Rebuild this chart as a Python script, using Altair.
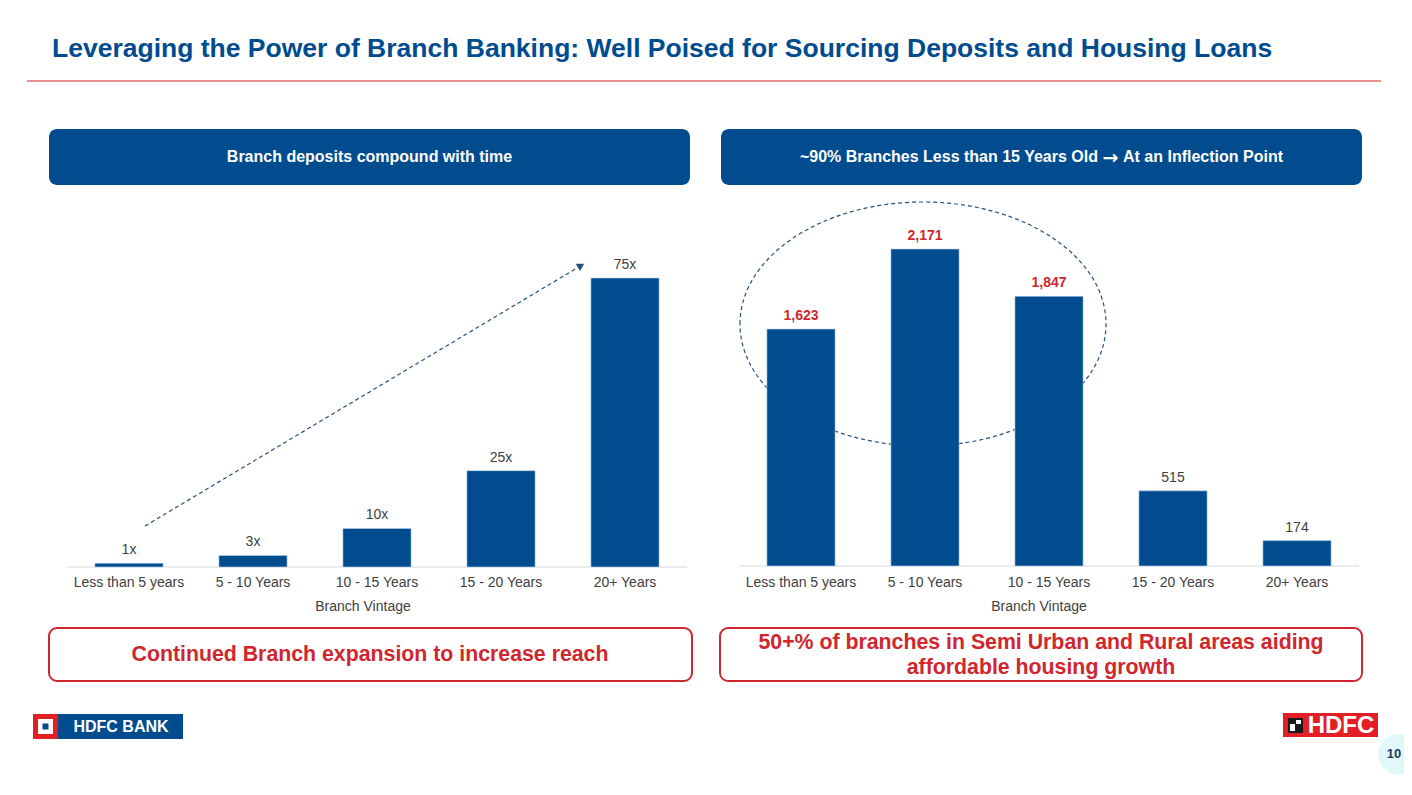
import altair as alt
import pandas as pd

# ---------------- data ----------------
vintage = ["Less than 5 years", "5 - 10 Years", "10 - 15 Years", "15 - 20 Years", "20+ Years"]
deposit_multiple = [1, 3, 10, 25, 75]
deposit_labels = ["1x", "3x", "10x", "25x", "75x"]
branch_count = [1623, 2171, 1847, 515, 174]
branch_labels = ["1,623", "2,171", "1,847", "515", "174"]
highlight = [True, True, True, False, False]

left_df = pd.DataFrame({"vintage": vintage, "value": deposit_multiple, "label": deposit_labels})
right_df = pd.DataFrame({"vintage": vintage, "value": branch_count, "label": branch_labels,
                         "hl": highlight})

BLUE = "#004C8F"
RED = "#D0262D"
GREY_TXT = "#404040"
FONT = "Liberation Sans"

one = alt.Data(values=[{"k": 0}])


def box(x, x2, y, y2, fill, stroke=None, sw=0, r=8):
    kw = dict(cornerRadius=r, fill=fill)
    if stroke:
        kw.update(stroke=stroke, strokeWidth=sw)
    return alt.Chart(one).mark_rect(**kw).encode(
        x=alt.value(x), x2=alt.value(x2), y=alt.value(y), y2=alt.value(y2))


def label(txt, x, y, size, color, bold=True, align="center", font=FONT, **extra):
    return alt.Chart(one).mark_text(
        text=txt, font=font, fontSize=size, color=color,
        fontWeight="bold" if bold else "normal", align=align, baseline="middle", **extra
    ).encode(x=alt.value(x), y=alt.value(y))


def xs(rng):
    return alt.X("vintage:N", sort=vintage, axis=None,
                 scale=alt.Scale(domain=vintage, range=rng, paddingInner=0.45, paddingOuter=0.225))


def ys(dom, rng):
    return alt.Y("value:Q", axis=None, scale=alt.Scale(domain=dom, range=rng))


L_RANGE = [59, 679]
R_RANGE = [731, 1351]
L_Y = ([0, 75], [559, 270])
R_Y = ([0, 2171], [558, 241])

layers = []

# title and rule
layers.append(label("Leveraging the Power of Branch Banking: Well Poised for Sourcing Deposits and Housing Loans",
                    44, 41, 26.5, BLUE, align="left"))
layers.append(alt.Chart(one).mark_rule(color="#D9706C", strokeWidth=1.5).encode(
    x=alt.value(19), x2=alt.value(1373), y=alt.value(73)))

# header boxes
layers.append(box(41, 682, 121, 177, BLUE))
layers.append(box(713, 1354, 121, 177, BLUE))
layers.append(label("Branch deposits compound with time", 361.5, 149, 16, "white"))
layers.append(label("~90% Branches Less than 15 Years Old", 1090, 149, 16, "white", align="right"))
layers.append(label("\u2192", 1102.5, 149.5, 19, "white", font="DejaVu Sans"))
layers.append(label("At an Inflection Point", 1115, 149, 16, "white", align="left"))

# bottom boxes
layers.append(box(41, 684, 620, 673, "white", RED, 2))
layers.append(box(712, 1354, 620, 673, "white", RED, 2))
layers.append(label("Continued Branch expansion to increase reach", 362, 647, 21.3, RED))
layers.append(label(["50+% of branches in Semi Urban and Rural areas aiding", "affordable housing growth"],
                    1033, 635, 21.3, RED, lineHeight=25))

# ellipse (right chart highlight)
b = 0.6667
k = 0.5523 * b
ell = (f"M -1 0 C -1 {-k:.4f} -0.5523 {-b:.4f} 0 {-b:.4f} C 0.5523 {-b:.4f} 1 {-k:.4f} 1 0 "
       f"C 1 {k:.4f} 0.5523 {b:.4f} 0 {b:.4f} C -0.5523 {b:.4f} -1 {k:.4f} -1 0 Z")
layers.append(alt.Chart(one).mark_point(shape=ell, size=366 * 366, filled=False, color="#24507E",
                                        strokeWidth=1.2, strokeDash=[4, 3], opacity=1).encode(
    x=alt.value(915), y=alt.value(316)))

# arrow (left chart)
layers.append(alt.Chart(one).mark_rule(color="#24507E", strokeWidth=1.2, strokeDash=[4, 3]).encode(
    x=alt.value(137), y=alt.value(518), x2=alt.value(574), y2=alt.value(257)))
layers.append(alt.Chart(one).mark_point(shape="triangle-up", size=70, filled=True, color="#24507E",
                                        angle=59, opacity=1).encode(
    x=alt.value(573), y=alt.value(257.5)))

# axis lines
layers.append(alt.Chart(one).mark_rule(color="#D9D9D9", strokeWidth=1.2).encode(
    x=alt.value(59), x2=alt.value(679), y=alt.value(559)))
layers.append(alt.Chart(one).mark_rule(color="#D9D9D9", strokeWidth=1.2).encode(
    x=alt.value(731), x2=alt.value(1351), y=alt.value(558)))

# left chart
lbase = alt.Chart(left_df)
layers.append(lbase.mark_bar(color=BLUE, stroke="#BDD7EE", strokeWidth=0.6).encode(
    x=xs(L_RANGE), y=ys(*L_Y), y2=alt.datum(0)))
layers.append(lbase.mark_text(font=FONT, fontSize=14, color=GREY_TXT, baseline="alphabetic", dy=-9).encode(
    x=xs(L_RANGE), y=ys(*L_Y), text="label:N"))
layers.append(lbase.mark_text(font=FONT, fontSize=14, color=GREY_TXT, baseline="middle").encode(
    x=xs(L_RANGE), y=alt.value(575), text="vintage:N"))
layers.append(label("Branch Vintage", 355, 599, 14, GREY_TXT, bold=False))

# right chart
rbase = alt.Chart(right_df)
layers.append(rbase.mark_bar(color=BLUE, stroke="#BDD7EE", strokeWidth=0.6).encode(
    x=xs(R_RANGE), y=ys(*R_Y), y2=alt.datum(0)))
layers.append(rbase.transform_filter("datum.hl").mark_text(
    font=FONT, fontSize=14, fontWeight="bold", color=RED, baseline="alphabetic", dy=-9).encode(
    x=xs(R_RANGE), y=ys(*R_Y), text="label:N"))
layers.append(rbase.transform_filter("!datum.hl").mark_text(
    font=FONT, fontSize=14, color=GREY_TXT, baseline="alphabetic", dy=-9).encode(
    x=xs(R_RANGE), y=ys(*R_Y), text="label:N"))
layers.append(rbase.mark_text(font=FONT, fontSize=14, color=GREY_TXT, baseline="middle").encode(
    x=xs(R_RANGE), y=alt.value(575), text="vintage:N"))
layers.append(label("Branch Vintage", 1031, 599, 14, GREY_TXT, bold=False))

# HDFC BANK logo
layers.append(box(25, 50, 706, 731, "#E31E24", r=0))
layers.append(box(30, 45, 711, 726, "white", r=0))
layers.append(box(34.5, 40.5, 715.5, 721.5, BLUE, r=0))
layers.append(box(50, 175, 706, 731, BLUE, r=0))
layers.append(label("HDFC BANK", 113, 719, 16, "white"))

# HDFC logo
layers.append(box(1275, 1370, 705, 729, "#E31E24", r=0))
layers.append(box(1280, 1295, 710, 725, "#1A1A1A", r=0))
layers.append(box(1282, 1287, 716, 723, "white", r=0))
layers.append(box(1288, 1293, 712, 716, "white", r=0))
layers.append(label("HDFC", 1333, 717.5, 24, "white"))

# page number
layers.append(alt.Chart(one).mark_point(shape="circle", size=1700, filled=True, color="#E0F8FA",
                                        opacity=1).encode(x=alt.value(1391), y=alt.value(746)))
layers.append(label("10", 1386, 746, 13, "#1F3864"))

chart = alt.layer(*layers).resolve_scale(x="independent", y="independent").properties(
    width=1396, height=770, autosize=alt.AutoSizeParams(type="none"), padding=0,
    background="white"
).configure_view(strokeWidth=0)

chart.save("out.html", embed_options={"renderer": "svg", "actions": False})
